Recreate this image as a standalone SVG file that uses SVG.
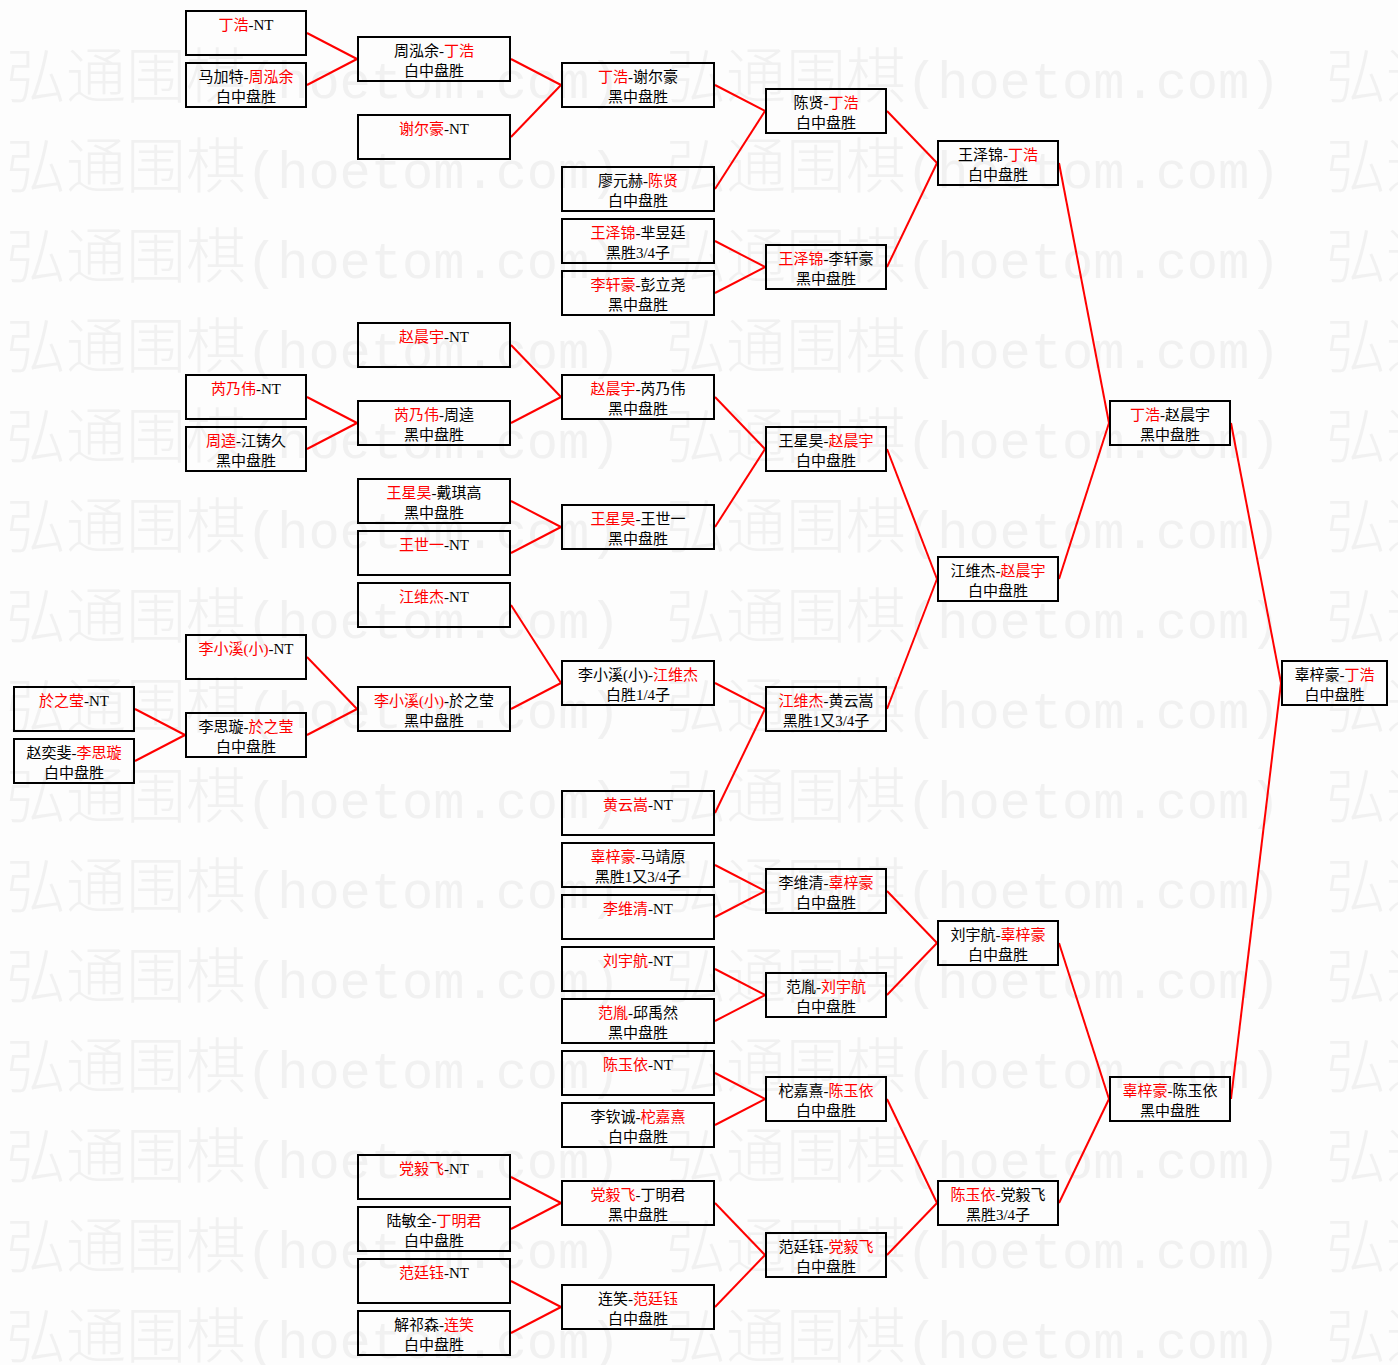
<svg xmlns="http://www.w3.org/2000/svg" xmlns:xlink="http://www.w3.org/1999/xlink" width="1398" height="1365" viewBox="0 0 1398 1365">
<style>
.bg{fill:#fdfdfd}
.wm{fill:#f1f1f1}
.wmc{font-family:"Noto Sans CJK SC",sans-serif;font-size:60px;font-weight:300}
.wml{font-family:"Liberation Mono",monospace;font-size:52px}
.node rect{fill:none;stroke:#000;stroke-width:2}
.node text{font-family:"Liberation Serif","Noto Sans CJK SC",serif;font-size:15px;fill:#000;text-anchor:middle}
.node .r{fill:#ff0000}
.conn line{stroke:#ff0000;stroke-width:2}
</style>
<defs>
<text id="wm" class="wm"><tspan class="wmc">弘通围棋</tspan><tspan class="wml">(hoetom.com)</tspan></text>
</defs>
<rect class="bg" x="0" y="0" width="1398" height="1365"/>
<g id="watermark">
<use xlink:href="#wm" x="6" y="98"/><use xlink:href="#wm" x="666" y="98"/><use xlink:href="#wm" x="1326" y="98"/>
<use xlink:href="#wm" x="6" y="188"/><use xlink:href="#wm" x="666" y="188"/><use xlink:href="#wm" x="1326" y="188"/>
<use xlink:href="#wm" x="6" y="278"/><use xlink:href="#wm" x="666" y="278"/><use xlink:href="#wm" x="1326" y="278"/>
<use xlink:href="#wm" x="6" y="368"/><use xlink:href="#wm" x="666" y="368"/><use xlink:href="#wm" x="1326" y="368"/>
<use xlink:href="#wm" x="6" y="458"/><use xlink:href="#wm" x="666" y="458"/><use xlink:href="#wm" x="1326" y="458"/>
<use xlink:href="#wm" x="6" y="548"/><use xlink:href="#wm" x="666" y="548"/><use xlink:href="#wm" x="1326" y="548"/>
<use xlink:href="#wm" x="6" y="638"/><use xlink:href="#wm" x="666" y="638"/><use xlink:href="#wm" x="1326" y="638"/>
<use xlink:href="#wm" x="6" y="728"/><use xlink:href="#wm" x="666" y="728"/><use xlink:href="#wm" x="1326" y="728"/>
<use xlink:href="#wm" x="6" y="818"/><use xlink:href="#wm" x="666" y="818"/><use xlink:href="#wm" x="1326" y="818"/>
<use xlink:href="#wm" x="6" y="908"/><use xlink:href="#wm" x="666" y="908"/><use xlink:href="#wm" x="1326" y="908"/>
<use xlink:href="#wm" x="6" y="998"/><use xlink:href="#wm" x="666" y="998"/><use xlink:href="#wm" x="1326" y="998"/>
<use xlink:href="#wm" x="6" y="1088"/><use xlink:href="#wm" x="666" y="1088"/><use xlink:href="#wm" x="1326" y="1088"/>
<use xlink:href="#wm" x="6" y="1178"/><use xlink:href="#wm" x="666" y="1178"/><use xlink:href="#wm" x="1326" y="1178"/>
<use xlink:href="#wm" x="6" y="1268"/><use xlink:href="#wm" x="666" y="1268"/><use xlink:href="#wm" x="1326" y="1268"/>
<use xlink:href="#wm" x="6" y="1358"/><use xlink:href="#wm" x="666" y="1358"/><use xlink:href="#wm" x="1326" y="1358"/>
</g>
<g id="connectors" class="conn">
<line x1="307" y1="33" x2="357" y2="59"/>
<line x1="307" y1="85" x2="357" y2="59"/>
<line x1="511" y1="59" x2="561" y2="85"/>
<line x1="511" y1="137" x2="561" y2="85"/>
<line x1="715" y1="85" x2="765" y2="111"/>
<line x1="715" y1="189" x2="765" y2="111"/>
<line x1="715" y1="241" x2="765" y2="267"/>
<line x1="715" y1="293" x2="765" y2="267"/>
<line x1="887" y1="111" x2="937" y2="163"/>
<line x1="887" y1="267" x2="937" y2="163"/>
<line x1="1059" y1="163" x2="1109" y2="423"/>
<line x1="511" y1="345" x2="561" y2="397"/>
<line x1="307" y1="397" x2="357" y2="423"/>
<line x1="307" y1="449" x2="357" y2="423"/>
<line x1="511" y1="423" x2="561" y2="397"/>
<line x1="715" y1="397" x2="765" y2="449"/>
<line x1="511" y1="501" x2="561" y2="527"/>
<line x1="511" y1="553" x2="561" y2="527"/>
<line x1="715" y1="527" x2="765" y2="449"/>
<line x1="887" y1="449" x2="937" y2="579"/>
<line x1="511" y1="605" x2="561" y2="683"/>
<line x1="307" y1="657" x2="357" y2="709"/>
<line x1="135" y1="709" x2="185" y2="735"/>
<line x1="135" y1="761" x2="185" y2="735"/>
<line x1="307" y1="735" x2="357" y2="709"/>
<line x1="511" y1="709" x2="561" y2="683"/>
<line x1="715" y1="683" x2="765" y2="709"/>
<line x1="715" y1="813" x2="765" y2="709"/>
<line x1="887" y1="709" x2="937" y2="579"/>
<line x1="1059" y1="579" x2="1109" y2="423"/>
<line x1="1231" y1="423" x2="1281" y2="683"/>
<line x1="715" y1="865" x2="765" y2="891"/>
<line x1="715" y1="917" x2="765" y2="891"/>
<line x1="715" y1="969" x2="765" y2="995"/>
<line x1="715" y1="1021" x2="765" y2="995"/>
<line x1="887" y1="891" x2="937" y2="943"/>
<line x1="887" y1="995" x2="937" y2="943"/>
<line x1="715" y1="1073" x2="765" y2="1099"/>
<line x1="715" y1="1125" x2="765" y2="1099"/>
<line x1="511" y1="1177" x2="561" y2="1203"/>
<line x1="511" y1="1229" x2="561" y2="1203"/>
<line x1="511" y1="1281" x2="561" y2="1307"/>
<line x1="511" y1="1333" x2="561" y2="1307"/>
<line x1="715" y1="1203" x2="765" y2="1255"/>
<line x1="715" y1="1307" x2="765" y2="1255"/>
<line x1="887" y1="1099" x2="937" y2="1203"/>
<line x1="887" y1="1255" x2="937" y2="1203"/>
<line x1="1059" y1="943" x2="1109" y2="1099"/>
<line x1="1059" y1="1203" x2="1109" y2="1099"/>
<line x1="1231" y1="1099" x2="1281" y2="683"/>
</g>
<g id="nodes">
<g id="a1" class="node"><rect x="14" y="687" width="120" height="44"/><text x="74" y="706"><tspan class="r">於之莹</tspan>-NT</text></g>
<g id="a2" class="node"><rect x="14" y="739" width="120" height="44"/><text x="74" y="758">赵奕斐-<tspan class="r">李思璇</tspan></text><text x="74" y="778">白中盘胜</text></g>

<g id="b1" class="node"><rect x="186" y="11" width="120" height="44"/><text x="246" y="30"><tspan class="r">丁浩</tspan>-NT</text></g>
<g id="b2" class="node"><rect x="186" y="63" width="120" height="44"/><text x="246" y="82">马加特-<tspan class="r">周泓余</tspan></text><text x="246" y="102">白中盘胜</text></g>
<g id="b3" class="node"><rect x="186" y="375" width="120" height="44"/><text x="246" y="394"><tspan class="r">芮乃伟</tspan>-NT</text></g>
<g id="b4" class="node"><rect x="186" y="427" width="120" height="44"/><text x="246" y="446"><tspan class="r">周逵</tspan>-江铸久</text><text x="246" y="466">黑中盘胜</text></g>
<g id="b5" class="node"><rect x="186" y="635" width="120" height="44"/><text x="246" y="654"><tspan class="r">李小溪(小)</tspan>-NT</text></g>
<g id="b6" class="node"><rect x="186" y="713" width="120" height="44"/><text x="246" y="732">李思璇-<tspan class="r">於之莹</tspan></text><text x="246" y="752">白中盘胜</text></g>

<g id="c1" class="node"><rect x="358" y="37" width="152" height="44"/><text x="434" y="56">周泓余-<tspan class="r">丁浩</tspan></text><text x="434" y="76">白中盘胜</text></g>
<g id="c2" class="node"><rect x="358" y="115" width="152" height="44"/><text x="434" y="134"><tspan class="r">谢尔豪</tspan>-NT</text></g>
<g id="c3" class="node"><rect x="358" y="323" width="152" height="44"/><text x="434" y="342"><tspan class="r">赵晨宇</tspan>-NT</text></g>
<g id="c4" class="node"><rect x="358" y="401" width="152" height="44"/><text x="434" y="420"><tspan class="r">芮乃伟</tspan>-周逵</text><text x="434" y="440">黑中盘胜</text></g>
<g id="c5" class="node"><rect x="358" y="479" width="152" height="44"/><text x="434" y="498"><tspan class="r">王星昊</tspan>-戴琪高</text><text x="434" y="518">黑中盘胜</text></g>
<g id="c6" class="node"><rect x="358" y="531" width="152" height="44"/><text x="434" y="550"><tspan class="r">王世一</tspan>-NT</text></g>
<g id="c7" class="node"><rect x="358" y="583" width="152" height="44"/><text x="434" y="602"><tspan class="r">江维杰</tspan>-NT</text></g>
<g id="c8" class="node"><rect x="358" y="687" width="152" height="44"/><text x="434" y="706"><tspan class="r">李小溪(小)</tspan>-於之莹</text><text x="434" y="726">黑中盘胜</text></g>
<g id="c9" class="node"><rect x="358" y="1155" width="152" height="44"/><text x="434" y="1174"><tspan class="r">党毅飞</tspan>-NT</text></g>
<g id="c10" class="node"><rect x="358" y="1207" width="152" height="44"/><text x="434" y="1226">陆敏全-<tspan class="r">丁明君</tspan></text><text x="434" y="1246">白中盘胜</text></g>
<g id="c11" class="node"><rect x="358" y="1259" width="152" height="44"/><text x="434" y="1278"><tspan class="r">范廷钰</tspan>-NT</text></g>
<g id="c12" class="node"><rect x="358" y="1311" width="152" height="44"/><text x="434" y="1330">解祁森-<tspan class="r">连笑</tspan></text><text x="434" y="1350">白中盘胜</text></g>

<g id="d1" class="node"><rect x="562" y="63" width="152" height="44"/><text x="638" y="82"><tspan class="r">丁浩</tspan>-谢尔豪</text><text x="638" y="102">黑中盘胜</text></g>
<g id="d2" class="node"><rect x="562" y="167" width="152" height="44"/><text x="638" y="186">廖元赫-<tspan class="r">陈贤</tspan></text><text x="638" y="206">白中盘胜</text></g>
<g id="d3" class="node"><rect x="562" y="219" width="152" height="44"/><text x="638" y="238"><tspan class="r">王泽锦</tspan>-芈昱廷</text><text x="638" y="258">黑胜3/4子</text></g>
<g id="d4" class="node"><rect x="562" y="271" width="152" height="44"/><text x="638" y="290"><tspan class="r">李轩豪</tspan>-彭立尧</text><text x="638" y="310">黑中盘胜</text></g>
<g id="d5" class="node"><rect x="562" y="375" width="152" height="44"/><text x="638" y="394"><tspan class="r">赵晨宇</tspan>-芮乃伟</text><text x="638" y="414">黑中盘胜</text></g>
<g id="d6" class="node"><rect x="562" y="505" width="152" height="44"/><text x="638" y="524"><tspan class="r">王星昊</tspan>-王世一</text><text x="638" y="544">黑中盘胜</text></g>
<g id="d7" class="node"><rect x="562" y="661" width="152" height="44"/><text x="638" y="680">李小溪(小)-<tspan class="r">江维杰</tspan></text><text x="638" y="700">白胜1/4子</text></g>
<g id="d8" class="node"><rect x="562" y="791" width="152" height="44"/><text x="638" y="810"><tspan class="r">黄云嵩</tspan>-NT</text></g>
<g id="d9" class="node"><rect x="562" y="843" width="152" height="44"/><text x="638" y="862"><tspan class="r">辜梓豪</tspan>-马靖原</text><text x="638" y="882">黑胜1又3/4子</text></g>
<g id="d10" class="node"><rect x="562" y="895" width="152" height="44"/><text x="638" y="914"><tspan class="r">李维清</tspan>-NT</text></g>
<g id="d11" class="node"><rect x="562" y="947" width="152" height="44"/><text x="638" y="966"><tspan class="r">刘宇航</tspan>-NT</text></g>
<g id="d12" class="node"><rect x="562" y="999" width="152" height="44"/><text x="638" y="1018"><tspan class="r">范胤</tspan>-邱禹然</text><text x="638" y="1038">黑中盘胜</text></g>
<g id="d13" class="node"><rect x="562" y="1051" width="152" height="44"/><text x="638" y="1070"><tspan class="r">陈玉依</tspan>-NT</text></g>
<g id="d14" class="node"><rect x="562" y="1103" width="152" height="44"/><text x="638" y="1122">李钦诚-<tspan class="r">柁嘉熹</tspan></text><text x="638" y="1142">白中盘胜</text></g>
<g id="d15" class="node"><rect x="562" y="1181" width="152" height="44"/><text x="638" y="1200"><tspan class="r">党毅飞</tspan>-丁明君</text><text x="638" y="1220">黑中盘胜</text></g>
<g id="d16" class="node"><rect x="562" y="1285" width="152" height="44"/><text x="638" y="1304">连笑-<tspan class="r">范廷钰</tspan></text><text x="638" y="1324">白中盘胜</text></g>

<g id="e1" class="node"><rect x="766" y="89" width="120" height="44"/><text x="826" y="108">陈贤-<tspan class="r">丁浩</tspan></text><text x="826" y="128">白中盘胜</text></g>
<g id="e2" class="node"><rect x="766" y="245" width="120" height="44"/><text x="826" y="264"><tspan class="r">王泽锦</tspan>-李轩豪</text><text x="826" y="284">黑中盘胜</text></g>
<g id="e3" class="node"><rect x="766" y="427" width="120" height="44"/><text x="826" y="446">王星昊-<tspan class="r">赵晨宇</tspan></text><text x="826" y="466">白中盘胜</text></g>
<g id="e4" class="node"><rect x="766" y="687" width="120" height="44"/><text x="826" y="706"><tspan class="r">江维杰</tspan>-黄云嵩</text><text x="826" y="726">黑胜1又3/4子</text></g>
<g id="e5" class="node"><rect x="766" y="869" width="120" height="44"/><text x="826" y="888">李维清-<tspan class="r">辜梓豪</tspan></text><text x="826" y="908">白中盘胜</text></g>
<g id="e6" class="node"><rect x="766" y="973" width="120" height="44"/><text x="826" y="992">范胤-<tspan class="r">刘宇航</tspan></text><text x="826" y="1012">白中盘胜</text></g>
<g id="e7" class="node"><rect x="766" y="1077" width="120" height="44"/><text x="826" y="1096">柁嘉熹-<tspan class="r">陈玉依</tspan></text><text x="826" y="1116">白中盘胜</text></g>
<g id="e8" class="node"><rect x="766" y="1233" width="120" height="44"/><text x="826" y="1252">范廷钰-<tspan class="r">党毅飞</tspan></text><text x="826" y="1272">白中盘胜</text></g>

<g id="f1" class="node"><rect x="938" y="141" width="120" height="44"/><text x="998" y="160">王泽锦-<tspan class="r">丁浩</tspan></text><text x="998" y="180">白中盘胜</text></g>
<g id="f2" class="node"><rect x="938" y="557" width="120" height="44"/><text x="998" y="576">江维杰-<tspan class="r">赵晨宇</tspan></text><text x="998" y="596">白中盘胜</text></g>
<g id="f3" class="node"><rect x="938" y="921" width="120" height="44"/><text x="998" y="940">刘宇航-<tspan class="r">辜梓豪</tspan></text><text x="998" y="960">白中盘胜</text></g>
<g id="f4" class="node"><rect x="938" y="1181" width="120" height="44"/><text x="998" y="1200"><tspan class="r">陈玉依</tspan>-党毅飞</text><text x="998" y="1220">黑胜3/4子</text></g>

<g id="g1" class="node"><rect x="1110" y="401" width="120" height="44"/><text x="1170" y="420"><tspan class="r">丁浩</tspan>-赵晨宇</text><text x="1170" y="440">黑中盘胜</text></g>
<g id="g2" class="node"><rect x="1110" y="1077" width="120" height="44"/><text x="1170" y="1096"><tspan class="r">辜梓豪</tspan>-陈玉依</text><text x="1170" y="1116">黑中盘胜</text></g>

<g id="h1" class="node"><rect x="1282" y="661" width="105" height="44"/><text x="1334.5" y="680">辜梓豪-<tspan class="r">丁浩</tspan></text><text x="1334.5" y="700">白中盘胜</text></g>
</g>
</svg>
